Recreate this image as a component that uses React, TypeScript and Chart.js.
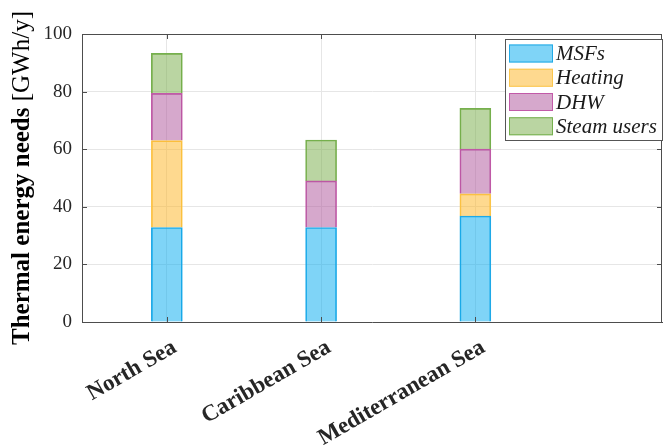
import React, { useEffect, useRef } from "react";
import { Chart, registerables } from "chart.js";

Chart.register(...registerables);

const categories = ["North Sea", "Caribbean Sea", "Mediterranean Sea"];
const msfs = [32.8, 32.8, 36.8];
const heating = [30.2, 0, 7.7];
const dhw = [16.4, 16.2, 15.5];
const steamUsers = [13.9, 14.2, 14.2];
const seriesNames = ["MSFs", "Heating", "DHW", "Steam users"];
const yTicks = [0, 20, 40, 60, 80, 100];

const fills = [
  "rgba(0,170,240,0.5)",
  "rgba(253,179,31,0.5)",
  "rgba(173,81,153,0.5)",
  "rgba(117,171,69,0.5)",
];
const borders = ["#22aae6", "#fbc64e", "#c25aa8", "#76b04e"];

const AXIS = "#4d4d4d";
const SERIF = "'Liberation Serif', 'Times New Roman', serif";

const extrasPlugin = {
  id: "extras",
  afterDatasetsDraw(chart: any) {
    const { ctx, chartArea } = chart;
    const { left, right, top, bottom } = chartArea;
    const xs = chart.scales.x;
    const ys = chart.scales.y;
    ctx.save();
    ctx.strokeStyle = AXIS;
    ctx.lineWidth = 1;
    ctx.beginPath();
    ctx.moveTo(left, top + 0.5);
    ctx.lineTo(right, top + 0.5);
    ctx.moveTo(right - 0.5, top);
    ctx.lineTo(right - 0.5, bottom);
    ctx.stroke();
    const tl = 5;
    ctx.beginPath();
    yTicks.forEach((v) => {
      const py = Math.round(ys.getPixelForValue(v)) + 0.5;
      ctx.moveTo(left, py);
      ctx.lineTo(left + tl, py);
      ctx.moveTo(right, py);
      ctx.lineTo(right - tl, py);
    });
    categories.forEach((_, i) => {
      const px = Math.round(xs.getPixelForValue(i + 1)) + 0.5;
      ctx.moveTo(px, bottom);
      ctx.lineTo(px, bottom - tl);
      ctx.moveTo(px, top);
      ctx.lineTo(px, top + tl);
    });
    ctx.stroke();
    ctx.restore();
  },
  afterDraw(chart: any) {
    const { ctx, chartArea } = chart;
    ctx.save();
    const bold = "Thermal energy needs ";
    const reg = "[GWh/y]";
    ctx.font = `bold 25px ${SERIF}`;
    const wb = ctx.measureText(bold).width;
    ctx.font = `25px ${SERIF}`;
    const wr = ctx.measureText(reg).width;
    const total = wb + wr;
    const cy = (chartArea.top + chartArea.bottom) / 2;
    ctx.translate(29, cy);
    ctx.rotate(-Math.PI / 2);
    ctx.fillStyle = "#000";
    ctx.textBaseline = "alphabetic";
    ctx.textAlign = "left";
    ctx.font = `bold 25px ${SERIF}`;
    ctx.fillText(bold, -total / 2, 0);
    ctx.font = `25px ${SERIF}`;
    ctx.fillText(reg, -total / 2 + wb, 0);
    ctx.restore();

    ctx.save();
    const bx = 505.5, by = 39.5, bw = 157, bh = 101;
    ctx.fillStyle = "#fff";
    ctx.fillRect(bx, by, bw, bh);
    ctx.strokeStyle = "#555";
    ctx.lineWidth = 1;
    ctx.strokeRect(bx, by, bw, bh);
    ctx.font = `italic 21px ${SERIF}`;
    ctx.textBaseline = "middle";
    ctx.textAlign = "left";
    chart.data.datasets.forEach((ds: any, i: number) => {
      const cyRow = 53.5 + i * 24.25;
      ctx.fillStyle = ds.backgroundColor;
      ctx.fillRect(509, cyRow - 9, 44, 18);
      ctx.strokeStyle = ds.borderColor;
      ctx.strokeRect(509.5, cyRow - 8.5, 43, 17);
      ctx.fillStyle = "#1a1a1a";
      ctx.fillText(ds.label, 556, cyRow + 1);
    });
    ctx.restore();
  },
};

export default function App() {
  const ref = useRef<HTMLCanvasElement>(null);
  useEffect(() => {
    const values = [msfs, heating, dhw, steamUsers];
    const chart = new Chart(ref.current!, {
      type: "bar",
      data: {
        datasets: values.map((arr, i) => ({
          label: seriesNames[i],
          data: arr.map((v, j) => ({ x: j + 1, y: v })),
          backgroundColor: fills[i],
          borderColor: borders[i],
          borderWidth: 1,
          barThickness: 31,
          stack: "s",
        })),
      },
      options: {
        animation: false,
        responsive: false,
        devicePixelRatio: 1,
        layout: { padding: { top: 34, right: 1, left: 0, bottom: 0 } },
        plugins: { legend: { display: false }, tooltip: { enabled: false } },
        scales: {
          x: {
            type: "linear",
            min: 0.45,
            max: 4.21,
            offset: false,
            afterBuildTicks: (s: any) => {
              s.ticks = categories.map((_, i) => ({ value: i + 1 }));
            },
            afterFit: (s: any) => {
              s.height = 125;
            },
            ticks: {
              autoSkip: false,
              maxRotation: 30,
              minRotation: 30,
              padding: 12,
              labelOffset: 8,
              color: "#262626",
              font: { family: SERIF, size: 23, weight: "bold" },
              callback: (v: any) => categories[Math.round(v) - 1] ?? "",
            },
            grid: { color: "#e6e6e6", drawTicks: false, offset: false },
            border: { color: AXIS },
          },
          y: {
            stacked: true,
            min: 0,
            max: 100,
            afterBuildTicks: (s: any) => {
              s.ticks = yTicks.map((v) => ({ value: v }));
            },
            afterFit: (s: any) => {
              s.width = 82;
            },
            ticks: {
              padding: 10,
              color: "#262626",
              font: { family: SERIF, size: 19 },
            },
            grid: { color: "#e6e6e6", drawTicks: false },
            border: { color: AXIS },
          },
        },
      },
      plugins: [extrasPlugin],
    } as any);
    return () => chart.destroy();
  }, []);
  return (
    <div style={{ position: "fixed", left: 0, top: 0, width: 663, height: 447, background: "#fff" }}>
      <canvas ref={ref} width={663} height={447} style={{ width: 663, height: 447 }} />
    </div>
  );
}
